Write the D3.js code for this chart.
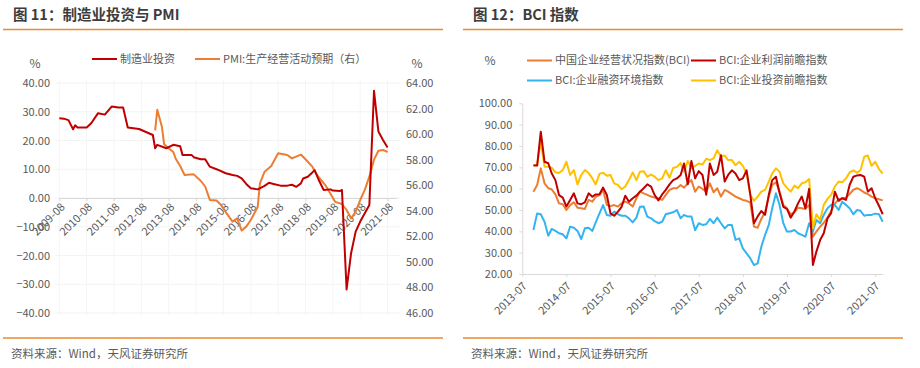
<!DOCTYPE html>
<html>
<head>
<meta charset="utf-8">
<script src="https://cdn.jsdelivr.net/npm/d3@7"></script>
<style>
  body { margin: 0; background: #fff; }
  text { font-family: "Noto Sans CJK SC", "Noto Sans", sans-serif; }
</style>
</head>
<body>
<script>
// ---- Figure 11: manufacturing investment vs PMI ----
const invDates = ["2009-08","2009-10","2009-12","2010-02","2010-03","2010-04","2010-08","2010-10","2011-01","2011-04","2011-07","2011-10","2011-12","2012-02","2012-07","2013-01","2013-02","2013-03","2013-07","2013-10","2014-01","2014-02","2014-06","2014-07","2014-10","2014-12","2015-02","2015-05","2015-06","2015-09","2015-12","2016-02","2016-04","2016-06","2016-08","2016-11","2017-02","2017-04","2017-06","2017-09","2017-12","2018-02","2018-04","2018-06","2018-07","2018-09","2018-11","2018-12","2019-02","2019-04","2019-07","2019-08","2019-11","2019-12","2020-02","2020-04","2020-06","2020-08","2020-10","2020-12","2021-02","2021-04","2021-06","2021-08"];
const invValues = [27.7,27.6,27.1,23.9,25.3,24.5,24.5,26,29.5,29.0,31.8,31.5,31.5,24.5,24,21.9,17.3,18.5,17.3,18.5,18,15,15,14.2,13.5,13.5,10.9,10,9.7,8.6,8.0,7.7,6.8,4.9,3.4,3.0,4.2,5.3,4.9,4.3,4.3,4.6,3.9,5.1,6.8,7.4,8.9,9.7,5.9,2.8,3.0,2.6,2.4,2.8,-31.8,-19.2,-11.7,-8.2,-5.3,-2.4,37.3,23.1,20.2,17.6];

const pmiDates = ["2013-02","2013-03","2013-05","2013-06","2013-08","2013-10","2013-11","2014-01","2014-03","2014-07","2014-10","2014-12","2015-02","2015-05","2015-07","2015-09","2015-12","2016-02","2016-04","2016-06","2016-08","2016-11","2016-12","2017-02","2017-05","2017-08","2017-12","2018-02","2018-06","2018-09","2018-11","2019-01","2019-05","2019-09","2019-12","2020-02","2020-04","2020-06","2020-08","2020-10","2020-12","2021-02","2021-04","2021-06","2021-08"];
const pmiValues = [60.3,61.9,60.6,59.2,58.9,58.6,58.1,57.5,56.8,56.85,56.35,55.9,54.85,54.8,54.45,53.9,53.15,53.4,52.45,52.76,53.28,54.3,56.15,57.06,57.5,58.5,58.37,58.1,58.4,57.84,57.45,56.8,55.94,54.7,54.53,54.06,53.4,53.93,54.85,55.63,56.67,58,58.7,58.76,58.6];

const leftTickLabels = ["2009-08","2010-08","2011-08","2012-08","2013-08","2014-08","2015-08","2016-08","2017-08","2018-08","2019-08","2020-08","2021-08"];
const leftYTicks = [-40,-30,-20,-10,0,10,20,30,40];
const rightYTicks = [46,48,50,52,54,56,58,60,62,64];

// ---- Figure 12: BCI index (monthly from bciStart) ----
const bciStart = "2013-10";
const bciTotal = [58.6,61.7,69.5,62.5,60.2,59.7,57.3,53.1,52.7,50,52.3,53.6,51.1,50.8,50.5,54.7,53.9,56.2,57,59.4,52.3,51.8,52.3,51.6,53.1,53.9,53.1,51.6,55.5,58.6,
  57.8,57.1,56.3,55.8,55.5,54.7,57.1,59.4,60.2,60.2,61.7,60.5,62.5,64,58.6,61,59.9,58.6,62.5,58.3,60.2,56.3,59.4,58.6,57.4,56.3,55.5,54.7,54.3,53.5,42.2,41.7,
  45.8,49,56.3,61.7,63,58.6,52.4,50.8,48,48.9,51.1,50.8,50.5,52.4,37.5,39.9,42.2,44,46.5,49.5,53,55,55.5,55.8,57.5,59.5,60.2,59.4,58.2,57.4,56.3,55.5,55,54.5];
const bciProfit = [70.8,70.8,86.7,72.6,71.9,67.2,64,57,55.8,51.6,54.7,57.8,53.1,52.7,53.6,57.8,56.2,57.3,57.4,60.5,57,48.4,47.3,49.2,51.5,56.7,53.9,55.5,56.7,58.6,
  60.2,62,61,57,54.5,57.3,59.4,62,64,64.8,66.4,71.8,62,73,64.8,68.2,66.4,57.1,71.8,66.4,67.9,75.7,63.3,66.4,68.6,67.1,64,64.8,68.6,57.1,43.8,47,
  49.5,47.7,57.1,64,65.6,58,51.5,50.5,46.4,49.3,53.1,56.3,50.8,59.9,24.2,30.5,35.9,39.1,46.1,48.5,58.6,54.3,55.5,54.7,61.7,65.6,66.2,66.4,65.6,58.6,60.2,55.5,52,48];
const bciFinance = [40.6,48.4,48,44.5,37.9,41.1,40.2,39.1,38.6,36.7,42.2,41.7,40.2,36.4,41.4,41.7,40.2,44.2,48.4,52.3,47.6,47.3,49.2,48,47.3,47.3,46.1,44.2,46.4,51.5,
  51.6,46.9,46.1,44.8,43.8,44.5,48,48.5,48.9,50,46.1,47.7,46.9,46.9,40.5,43.8,43,43.3,45.8,43.8,46.4,43.8,41.4,43,43,36,36.7,32,29.7,27.3,24.2,25,
  32.8,38.3,43,50.8,57.8,52.4,43.8,39.9,39.9,40.6,39.1,38.3,37.5,43.8,39.9,45.3,43.8,47.7,50.8,52.4,52.4,50,53.9,52.4,50.8,48,50,49.6,47.3,47.7,47.7,48.3,48,44.5];
const bciInvest = [71.1,71.1,82,70.3,70.3,69.8,67.7,67.3,68.7,72.6,66.4,68.7,62,66.4,68.7,67.3,64.8,62,66.9,67.5,66,66.4,62.5,61.8,59.7,61,64,67.6,64,67.9,
  68.2,65.6,66.6,65.6,64,64.8,68.6,65.1,69.7,70.2,72,67.9,73,69.7,70.7,71.8,71.3,74,73.4,74.2,78,75,75.5,73.4,73.4,71,72.6,70.7,67.1,57.1,54.3,56.3,
  58.6,59.4,63.3,67.1,69.5,67.9,62.5,60.5,58.6,61.4,60.2,62.5,63,64.5,41.4,48,45.3,52.4,55.2,57.1,61,63.3,63,64.8,67.6,68.6,67.5,68.6,75,75.5,70.7,72.6,69.2,67.1];

const bciTickLabels = ["2013-07","2014-07","2015-07","2016-07","2017-07","2018-07","2019-07","2020-07","2021-07"];
const bciYTicks = [20,30,40,50,60,70,80,90,100];

const parseMonth = d3.timeParse("%Y-%m");
const fmtMonth = d3.timeFormat("%Y-%m");
const fmt2 = d3.format(".2f");

const ORANGE = "#ED7D31", RED = "#C00000", BLUE = "#33B4F0", YELLOW = "#FFC000";
const AXIS = "#d9d9d9", LABEL = "#595959", ACCENT = "#EC8A2C";

const svg = d3.select("body").append("svg")
    .attr("width", 920).attr("height", 368);

// Panel frames: title, accent lines, source
function panelFrame(x0, x1, title) {
    svg.append("text").attr("x", x0 + 10).attr("y", 20)
        .attr("font-size", 14.5).attr("font-weight", "bold").attr("fill", "#3c3c3c")
        .text(title);
    svg.append("line").attr("x1", x0).attr("x2", x1).attr("y1", 29.5).attr("y2", 29.5)
        .attr("stroke", ACCENT).attr("stroke-width", 1.3);
    svg.append("line").attr("x1", x0).attr("x2", x1).attr("y1", 338).attr("y2", 338)
        .attr("stroke", ACCENT).attr("stroke-width", 1.3);
    svg.append("text").attr("x", x0 + 8).attr("y", 358)
        .attr("font-size", 11.5).attr("fill", LABEL)
        .text("资料来源：Wind，天风证券研究所");
}
panelFrame(3, 443, "图 11：制造业投资与 PMI");
panelFrame(463, 903, "图 12：BCI 指数");

function legendItem(x, y, color, label) {
    svg.append("line").attr("x1", x).attr("x2", x + 25).attr("y1", y).attr("y2", y)
        .attr("stroke", color).attr("stroke-width", 2);
    svg.append("text").attr("x", x + 28).attr("y", y).attr("dy", "0.35em")
        .attr("font-size", 11).attr("fill", LABEL).text(label);
}

// ================= Left chart =================
const xL = d3.scaleTime()
    .domain([parseMonth("2009-08"), parseMonth("2021-12")])
    .range([59.3, 396.7]);
const yL = d3.scaleLinear().domain([-40, 40]).range([313, 83]);
const yR = d3.scaleLinear().domain([46, 64]).range([313, 83]);

const left = svg.append("g");

// faint grid
left.append("g").selectAll("line").data(leftYTicks).join("line")
    .attr("x1", 55).attr("x2", 400).attr("y1", d => yL(d)).attr("y2", d => yL(d))
    .attr("stroke", "#f3f3f3");
left.append("g").selectAll("line").data(leftTickLabels).join("line")
    .attr("x1", d => xL(parseMonth(d))).attr("x2", d => xL(parseMonth(d)))
    .attr("y1", 80).attr("y2", 316).attr("stroke", "#f5f5f5");

// y axes (labels only)
left.append("g").attr("transform", "translate(50,0)")
    .call(d3.axisLeft(yL).tickValues(leftYTicks).tickFormat(fmt2).tickSize(0))
    .call(g => g.select(".domain").remove())
    .call(g => g.selectAll("text").attr("fill", LABEL).attr("font-size", 11).attr("x", 0));
left.append("g").attr("transform", "translate(406,0)")
    .call(d3.axisRight(yR).tickValues(rightYTicks).tickFormat(fmt2).tickSize(0))
    .call(g => g.select(".domain").remove())
    .call(g => g.selectAll("text").attr("fill", LABEL).attr("font-size", 11).attr("x", 0));

// x axis on zero line
left.append("g").attr("transform", `translate(0,${yL(0)})`)
    .call(d3.axisBottom(xL).tickValues(leftTickLabels.map(parseMonth))
        .tickFormat(fmtMonth).tickSize(3).tickSizeOuter(0))
    .call(g => g.select(".domain").attr("stroke", AXIS))
    .call(g => g.selectAll(".tick line").attr("stroke", AXIS))
    .call(g => g.selectAll("text").attr("fill", LABEL).attr("font-size", 11)
        .attr("x", 0).attr("y", 0).attr("dy", "0.35em").attr("text-anchor", "end")
        .attr("transform", "translate(3,7) rotate(-45)"));

const invData = invDates.map((d, i) => ({ date: parseMonth(d), v: invValues[i] }));
const pmiData = pmiDates.map((d, i) => ({ date: parseMonth(d), v: pmiValues[i] }));

left.append("path").datum(pmiData)
    .attr("fill", "none").attr("stroke", ORANGE).attr("stroke-width", 2).attr("stroke-linejoin", "round")
    .attr("d", d3.line().x(d => xL(d.date)).y(d => yR(d.v)));
left.append("path").datum(invData)
    .attr("fill", "none").attr("stroke", RED).attr("stroke-width", 2).attr("stroke-linejoin", "round")
    .attr("d", d3.line().x(d => xL(d.date)).y(d => yL(d.v)));

left.append("text").attr("x", 35).attr("y", 64).attr("dy", "0.35em").attr("text-anchor", "middle")
    .attr("font-size", 12).attr("fill", LABEL).text("%");
left.append("text").attr("x", 417).attr("y", 64).attr("dy", "0.35em").attr("text-anchor", "middle")
    .attr("font-size", 12).attr("fill", LABEL).text("%");
legendItem(92, 59, RED, "制造业投资");
legendItem(195, 59, ORANGE, "PMI:生产经营活动预期（右）");

// ================= Right chart =================
const x2 = d3.scaleTime()
    .domain([parseMonth("2013-07"), parseMonth("2021-09")])
    .range([522.3, 882.7]);
const y2 = d3.scaleLinear().domain([20, 100]).range([274, 103.3]);

const right = svg.append("g");

right.append("g").attr("transform", "translate(522.3,0)")
    .call(d3.axisLeft(y2).tickValues(bciYTicks).tickFormat(fmt2).tickSize(3).tickSizeOuter(0))
    .call(g => g.select(".domain").attr("stroke", AXIS))
    .call(g => g.selectAll(".tick line").attr("stroke", AXIS))
    .call(g => g.selectAll("text").attr("fill", LABEL).attr("font-size", 11).attr("x", -10));

right.append("g").attr("transform", "translate(0,274)")
    .call(d3.axisBottom(x2).tickValues(bciTickLabels.map(parseMonth))
        .tickFormat(fmtMonth).tickSize(3).tickSizeOuter(0))
    .call(g => g.select(".domain").attr("stroke", AXIS))
    .call(g => g.selectAll(".tick line").attr("stroke", AXIS))
    .call(g => g.selectAll("text").attr("fill", LABEL).attr("font-size", 11)
        .attr("x", 0).attr("y", 0).attr("dy", "0.35em").attr("text-anchor", "end")
        .attr("transform", "translate(2,10) rotate(-45)"));

const start = parseMonth(bciStart);
const bciSeries = [
    { values: bciTotal, color: ORANGE },
    { values: bciFinance, color: BLUE },
    { values: bciInvest, color: YELLOW },
    { values: bciProfit, color: RED }
];
const line2 = d3.line().x(d => x2(d.date)).y(d => y2(d.v));
bciSeries.forEach(s => {
    const data = s.values.map((v, i) => ({ date: d3.timeMonth.offset(start, i), v }));
    right.append("path").datum(data)
        .attr("fill", "none").attr("stroke", s.color).attr("stroke-width", 2)
        .attr("stroke-linejoin", "round").attr("d", line2);
});

right.append("text").attr("x", 490).attr("y", 60.5).attr("dy", "0.35em").attr("text-anchor", "middle")
    .attr("font-size", 12).attr("fill", LABEL).text("%");
legendItem(527, 60.5, ORANGE, "中国企业经营状况指数(BCI)");
legendItem(691, 60.5, RED, "BCI:企业利润前瞻指数");
legendItem(527, 80.5, BLUE, "BCI:企业融资环境指数");
legendItem(691, 80.5, YELLOW, "BCI:企业投资前瞻指数");
</script>
</body>
</html>
